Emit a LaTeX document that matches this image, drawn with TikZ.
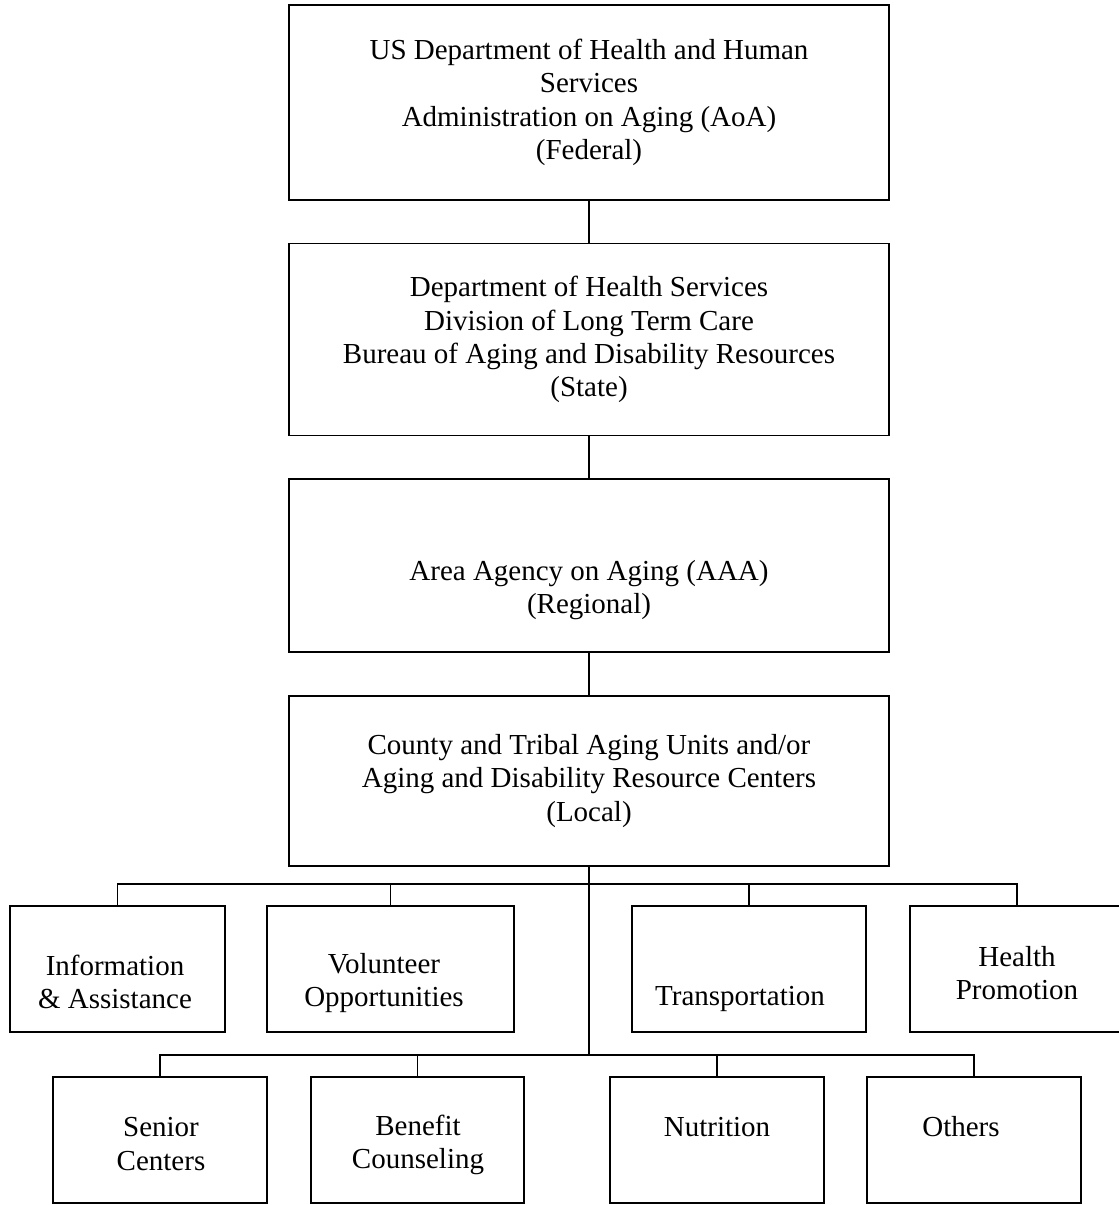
\documentclass[tikz,border=0pt]{standalone}
\usepackage{fontspec}
\setmainfont{Liberation Serif}
\usetikzlibrary{positioning}

\begin{document}
\begin{tikzpicture}[x=0.2mm, y=-0.2mm, line width=0.9pt, node distance=8.4mm,
  level/.style={draw, minimum width=120mm, align=center, font=\fontsize{16.5}{19}\selectfont},
  unit/.style={draw, minimum height=25.2mm, inner sep=0pt},
  txt/.style={align=center, font=\fontsize{16.5}{19}\selectfont}]
\useasboundingbox (0,0) rectangle (1118,1205);

\node[level, minimum height=39mm] (aoa) at (589,102.5) {US Department of Health and Human\\ Services\\ Administration on Aging (AoA)\\ (Federal)};
\node[level, minimum height=38.4mm, below=of aoa] (dhs) {Department of Health Services\\ Division of Long Term Care\\ Bureau of Aging and Disability Resources\\ (State)};
\node[level, minimum height=34.6mm, below=of dhs] (aaa) {};
\node[txt] (aaatext) at (589,590) {Area Agency on Aging (AAA)\\ (Regional)};
\node[level, minimum height=34mm, below=of aaa] (local) {County and Tribal Aging Units and/or\\ Aging and Disability Resource Centers\\ (Local)};

\node[unit, minimum width=43mm] (info) at (117.5,969) {};
\node[unit, minimum width=49.4mm] (vol) at (390.5,969) {};
\node[unit, minimum width=46.8mm] (trans) at (749,969) {};
\node[unit, minimum width=42.8mm] (health) at (1017,969) {};

\node[unit, minimum width=42.8mm] (senior) at (160,1140) {};
\node[unit, minimum width=42.6mm] (benefit) at (417.5,1140) {};
\node[unit, minimum width=42.8mm] (nutrition) at (717,1140) {};
\node[unit, minimum width=42.8mm] (others) at (974,1140) {};

\node[txt] (infotext) at (115,982) {Information\\ \& Assistance};
\node[txt] (voltext) at (384,983) {Volunteer\\ Opportunities};
\node[txt] (transtext) at (740,999) {Transportation};
\node[txt] (healthtext) at (1017,973) {Health\\ Promotion};
\node[txt] (seniortext) at (161,1144) {Senior\\ Centers};
\node[txt] (benefittext) at (418,1145) {Benefit\\ Counseling};
\node[txt] (nutritiontext) at (717,1127) {Nutrition};
\node[txt] (otherstext) at (961,1127) {Others};

\coordinate (bus1) at (589,884);
\coordinate (bus2) at (589,1055);

\draw (aoa) -- (dhs);
\draw (dhs) -- (aaa);
\draw (aaa) -- (local);
\draw (local) -- (bus2);
\draw (info.north) |- (bus1) -| (health.north);
\draw (vol.north) |- (bus1);
\draw (trans.north) |- (bus1);
\draw (senior.north) |- (bus2) -| (others.north);
\draw (benefit.north) |- (bus2);
\draw (nutrition.north) |- (bus2);
\end{tikzpicture}
\end{document}
